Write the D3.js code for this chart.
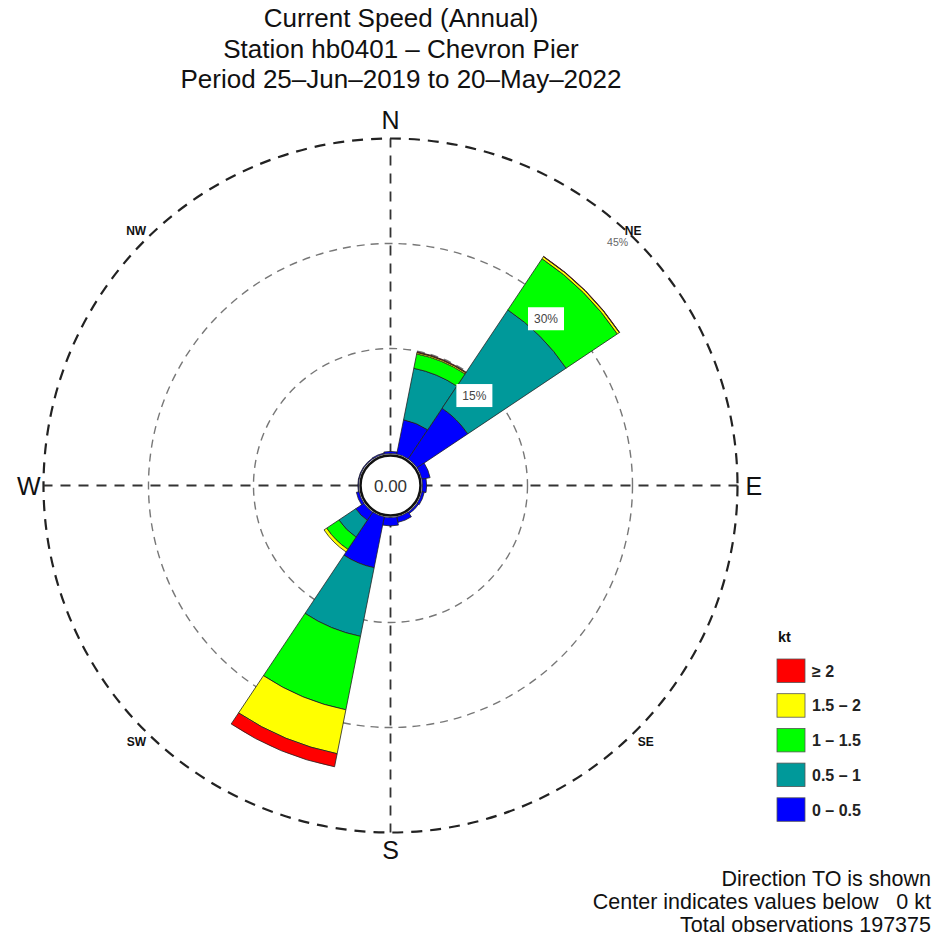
<!DOCTYPE html>
<html>
<head>
<meta charset="utf-8">
<script src="https://cdn.jsdelivr.net/npm/d3@7"></script>
<style>
  body { margin: 0; background: #fff; }
  svg { display: block; }
  text { font-family: "Liberation Sans", Arial, Helvetica, sans-serif; white-space: pre; }
</style>
</head>
<body>
<div class="rose"></div>
<script>
// 16 direction sectors (direction TO), percent of observations per speed bin
const directions = ['N', 'NNE', 'NE', 'ENE', 'E', 'ESE', 'SE', 'SSE',
                    'S', 'SSW', 'SW', 'WSW', 'W', 'WNW', 'NW', 'NNW']
const speed0to05  = [0.3, 5.0, 8.7, 1.2, 0.6, 0.35, 0.25, 0.8, 1.2, 7.4, 1.4, 0.4, 0.1, 0.1, 0.1, 0.15]
const speed05to1  = [0, 7.5, 16.9, 0, 0, 0, 0, 0, 0, 10.0, 2.9, 0, 0, 0, 0, 0]
const speed1to15  = [0, 2.1, 8.8, 0, 0, 0, 0, 0, 0, 10.7, 2.1, 0, 0, 0, 0, 0]
const speed15to2  = [0, 0.2, 0.35, 0, 0, 0, 0, 0, 0, 6.4, 0.45, 0, 0, 0, 0, 0]
const speedOver2  = [0, 0.1, 0.05, 0, 0, 0, 0, 0, 0, 1.9, 0, 0, 0, 0, 0, 0]

const binKeys = ['b0', 'b1', 'b2', 'b3', 'b4']
const binLabels = ['0 \u2013 0.5', '0.5 \u2013 1', '1 \u2013 1.5', '1.5 \u2013 2', '\u2265 2']
const ringValues = [15, 30, 45]
const ringLabels = ['15%', '30%', '45%']

const title = ['Current Speed (Annual)', 'Station hb0401 \u2013 Chevron Pier',
               'Period 25\u2013Jun\u20132019 to 20\u2013May\u20132022']
const notes = ['Direction TO is shown', 'Center indicates values below   0 kt',
               'Total observations 197375']

const colors = ['#0000ff', '#00999a', '#00ff00', '#ffff00', '#ff0000']

const width = 937
const height = 942
const cx = 390.5
const cy = 485.5
const rInner = 32
const rOuter = 347

const rows = directions.map((dir, i) => ({
  dir,
  b0: speed0to05[i], b1: speed05to1[i], b2: speed1to15[i], b3: speed15to2[i], b4: speedOver2[i]
}))
const series = d3.stack().keys(binKeys)(rows)

const r = d3.scaleLinear().domain([0, 45]).range([rInner, rOuter])
const a = d3.scaleBand()
  .domain(directions)
  .range([-Math.PI / 16, 2 * Math.PI - Math.PI / 16])

const svg = d3.select('.rose')
  .append('svg')
  .attr('width', width)
  .attr('height', height)

// title
svg.append('g')
  .selectAll('text')
  .data(title)
  .enter()
  .append('text')
  .attr('x', 401)
  .attr('y', (d, i) => 27 + i * 30.5)
  .attr('text-anchor', 'middle')
  .attr('font-size', 26)
  .attr('fill', '#111')
  .text(d => d)

const plot = svg.append('g').attr('transform', `translate(${cx},${cy})`)

// rings
plot.append('g')
  .selectAll('circle')
  .data(ringValues)
  .enter()
  .append('circle')
  .attr('r', d => r(d))
  .attr('fill', 'none')
  .attr('stroke', (d, i) => i === ringValues.length - 1 ? '#222' : '#777')
  .attr('stroke-width', (d, i) => i === ringValues.length - 1 ? 2.2 : 1.4)
  .attr('stroke-dasharray', (d, i) => i === ringValues.length - 1 ? '11,8' : '8,6')

// axes
plot.append('g')
  .selectAll('line')
  .data([0, Math.PI / 2, Math.PI, 3 * Math.PI / 2])
  .enter()
  .append('line')
  .attr('x1', d => rInner * Math.sin(d))
  .attr('y1', d => -rInner * Math.cos(d))
  .attr('x2', d => rOuter * Math.sin(d))
  .attr('y2', d => -rOuter * Math.cos(d))
  .attr('stroke', '#333')
  .attr('stroke-width', 1.8)
  .attr('stroke-dasharray', '10,8')

// petals
const arc = d3.arc()
  .innerRadius(d => r(d[0]))
  .outerRadius(d => r(d[1]))
  .startAngle(d => a(d.data.dir))
  .endAngle(d => a(d.data.dir) + a.bandwidth())

plot.append('g')
  .selectAll('g')
  .data(series)
  .enter()
  .append('g')
  .attr('fill', (d, i) => colors[i])
  .selectAll('path')
  .data(d => d.filter(p => p[1] - p[0] > 0))
  .enter()
  .append('path')
  .attr('d', arc)
  .attr('stroke', '#222')
  .attr('stroke-width', 0.8)

// ring labels
const ringLab = plot.append('g')
  .selectAll('g')
  .data(ringValues)
  .enter()
  .append('g')
  .attr('transform', d => {
    const ang = 43 * Math.PI / 180
    const rr = r(d) - 14
    return `translate(${rr * Math.sin(ang)},${-rr * Math.cos(ang)})`
  })

ringLab.filter((d, i) => i < ringValues.length - 1)
  .append('rect')
  .attr('x', -18)
  .attr('y', -11.5)
  .attr('width', 36)
  .attr('height', 23)
  .attr('fill', '#fff')

ringLab.append('text')
  .attr('text-anchor', 'middle')
  .attr('dy', '0.36em')
  .attr('font-size', (d, i) => i < ringValues.length - 1 ? 12 : 10.5)
  .attr('fill', (d, i) => i < ringValues.length - 1 ? '#444' : '#666')
  .text((d, i) => ringLabels[i])

// center circle
plot.append('circle')
  .attr('r', rInner - 2)
  .attr('fill', '#fff')
  .attr('stroke', '#111')
  .attr('stroke-width', 2.5)

plot.append('text')
  .attr('text-anchor', 'middle')
  .attr('dy', '0.36em')
  .attr('font-size', 17)
  .attr('fill', '#333')
  .text('0.00')

// compass labels
const s45 = Math.SQRT1_2 * rOuter
const compass = [
  { t: 'N', x: 0, y: -rOuter - 10, anchor: 'middle', size: 25 },
  { t: 'S', x: 0, y: rOuter + 26, anchor: 'middle', size: 25 },
  { t: 'W', x: -rOuter - 3, y: 9, anchor: 'end', size: 25 },
  { t: 'E', x: rOuter + 8, y: 9, anchor: 'start', size: 25 },
  { t: 'NE', x: s45 - 11, y: -s45 - 5, anchor: 'start', size: 12 },
  { t: 'NW', x: -s45 + 1, y: -s45 - 5, anchor: 'end', size: 12 },
  { t: 'SW', x: -s45 + 1, y: s45 + 15, anchor: 'end', size: 12 },
  { t: 'SE', x: s45 + 2, y: s45 + 15, anchor: 'start', size: 12 }
]
plot.append('g')
  .selectAll('text')
  .data(compass)
  .enter()
  .append('text')
  .attr('x', d => d.x)
  .attr('y', d => d.y)
  .attr('text-anchor', d => d.anchor)
  .attr('font-size', d => d.size)
  .attr('font-weight', d => d.size < 20 ? 'bold' : 'normal')
  .attr('fill', '#111')
  .text(d => d.t)

// legend
const legend = svg.append('g').attr('transform', 'translate(777,659)')
legend.append('text')
  .attr('x', 1)
  .attr('y', -17)
  .attr('font-size', 14.5)
  .attr('font-weight', 'bold')
  .attr('fill', '#111')
  .text('kt')

const legItems = legend.selectAll('g')
  .data(d3.range(binKeys.length).reverse())
  .enter()
  .append('g')
  .attr('transform', (d, i) => `translate(0,${i * 34.7})`)

legItems.append('rect')
  .attr('width', 28)
  .attr('height', 23.5)
  .attr('fill', d => colors[d])
  .attr('stroke', '#555')
  .attr('stroke-width', 0.8)

legItems.append('text')
  .attr('x', 35)
  .attr('y', 12)
  .attr('dy', '0.36em')
  .attr('font-size', 16)
  .attr('font-weight', 'bold')
  .attr('fill', '#222')
  .text(d => binLabels[d])

// footnotes
svg.append('g')
  .selectAll('text')
  .data(notes)
  .enter()
  .append('text')
  .attr('x', 931)
  .attr('y', (d, i) => 886 + i * 23)
  .attr('text-anchor', 'end')
  .attr('font-size', 21.5)
  .attr('fill', '#111')
  .text(d => d)
</script>
</body>
</html>
